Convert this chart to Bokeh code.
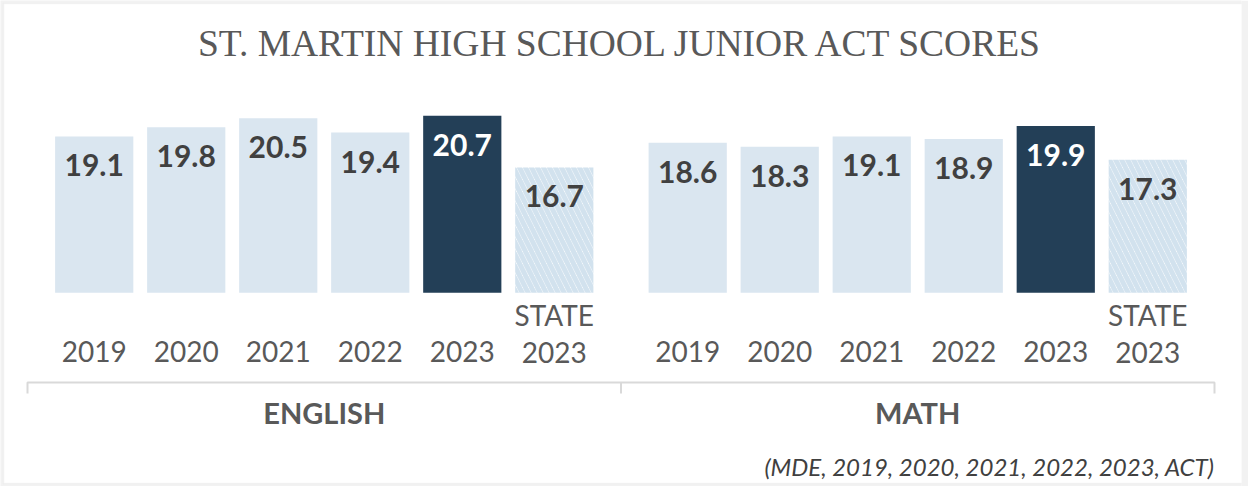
from bokeh.plotting import figure
from bokeh.models import FactorRange, Range1d, ColumnDataSource, LinearScale, BoxAnnotation
from bokeh.core.properties import value
from bokeh.embed import file_html
from bokeh.resources import INLINE

# ---------------- data ----------------
TITLE = "ST. MARTIN HIGH SCHOOL JUNIOR ACT SCORES"
SUBJECTS = ["ENGLISH", "MATH"]
PERIODS = ["2019", "2020", "2021", "2022", "2023", "STATE 2023"]
TICK_LABELS = ["2019", "2020", "2021", "2022", "2023", "STATE\n2023"]
ENGLISH = [19.1, 19.8, 20.5, 19.4, 20.7, 16.7]
MATH = [18.6, 18.3, 19.1, 18.9, 19.9, 17.3]
SOURCE_NOTE = "(MDE, 2019, 2020, 2021, 2022, 2023, ACT)"
AXIS_MIN = 7

# ---------------- styles ----------------
W, H = 1248, 486
RIGHT_BORDER = 7
GROUP_PAD = 0.45
EDGE = 0.5 + GROUP_PAD / 2          # offset from a bar centre to the bracket edge
LIGHT = "#DAE6F0"
DARK = "#233F57"
GREY_TXT = "#595959"
DARK_TXT = "#404040"
LINE_GREY = "#D9D9D9"
PAGE_GREY = "#F2F2F2"
TICK_CENTER = 351     # px from top, centre of the last label line
TICK_LINE = 36        # px between label lines

factors = [(s, per) for s in SUBJECTS for per in PERIODS]
scores = ENGLISH + MATH
periods = PERIODS * len(SUBJECTS)
ticks = TICK_LABELS * len(SUBJECTS)
tick_y = [TICK_CENTER - t.count("\n") * TICK_LINE / 2 for t in ticks]

fills, hatches, lcolors = [], [], []
for per in periods:
    if per == "2023":
        fills.append(DARK); hatches.append(" "); lcolors.append("white")
    elif per.startswith("STATE"):
        fills.append("white"); hatches.append("\\"); lcolors.append(DARK_TXT)
    else:
        fills.append(LIGHT); hatches.append(" "); lcolors.append(DARK_TXT)

src = ColumnDataSource(dict(
    x=factors, top=scores, fill=fills, hatch=hatches, lcolor=lcolors,
    label=[f"{v:.1f}" for v in scores], tick=ticks, tick_y=tick_y,
))

x_range = FactorRange(*factors, group_padding=GROUP_PAD, range_padding=0.0833,
                      range_padding_units="percent")
y_range = Range1d(-7.98, 29.61)

p = figure(width=W, height=H, x_range=x_range, y_range=y_range,
           output_backend="svg", toolbar_location=None,
           x_axis_location=None, y_axis_location=None,
           min_border=0, min_border_right=RIGHT_BORDER)
p.extra_y_ranges = {"px": Range1d(H, 0)}
p.extra_y_scales = {"px": LinearScale()}
p.grid.visible = False
p.outline_line_color = None
p.background_fill_color = PAGE_GREY
p.border_fill_color = PAGE_GREY

# white card with a thin grey border
p.add_layout(BoxAnnotation(left=3, right=W - 3, bottom=3, top=H - 3,
                           left_units="screen", right_units="screen",
                           bottom_units="screen", top_units="screen",
                           fill_color="white", fill_alpha=1,
                           line_color="#DDDDDD", line_width=1.5,
                           level="underlay"))

# bars
p.vbar(x="x", top="top", bottom=AXIS_MIN, width=0.85, source=src,
       fill_color="fill", line_color=None,
       hatch_pattern="hatch", hatch_color="#D2E2EE", hatch_weight=5,
       hatch_scale=12)

# value labels
p.text(x="x", y="top", text="label", source=src, y_offset=29,
       text_align="center", text_baseline="middle",
       text_font=value("Lato"), text_font_style="bold",
       text_font_size="30px", text_color="lcolor")

# category tick labels
p.text(x="x", y="tick_y", text="tick", source=src, y_range_name="px",
       text_align="center", text_baseline="middle",
       text_font=value("Lato"), text_font_size="28px",
       text_color=GREY_TXT, text_line_height=1.07)

# bracket under the category labels
first = (SUBJECTS[0], PERIODS[0])
mid = (SUBJECTS[0], PERIODS[-1])
last = (SUBJECTS[-1], PERIODS[-1])
left_x = (*first, -EDGE)
mid_x = (*mid, EDGE)
right_x = (*last, EDGE)
p.multi_line(xs=[[left_x, left_x, right_x, right_x], [mid_x, mid_x]],
             ys=[[393, 382, 382, 393], [382, 393]],
             y_range_name="px", line_color=LINE_GREY, line_width=2)

# group labels
p.text(x=SUBJECTS, y=[412] * len(SUBJECTS), text=SUBJECTS, y_range_name="px",
       text_align="center", text_baseline="middle",
       text_font=value("Lato"), text_font_style="bold",
       text_font_size="29px", text_color=GREY_TXT)

# title
p.text(x=[mid_x], y=[43], text=[TITLE], y_range_name="px",
       text_align="center", text_baseline="middle",
       text_font=value("Liberation Serif"), text_font_size="37.5px",
       text_color=GREY_TXT)

# source note
p.text(x=[right_x], y=[466], text=[SOURCE_NOTE], y_range_name="px",
       text_align="right", text_baseline="middle",
       text_font=value("Lato"), text_font_style="italic",
       text_font_size="24px", text_color=DARK_TXT)

open("out.html", "w").write(file_html(p, INLINE))
